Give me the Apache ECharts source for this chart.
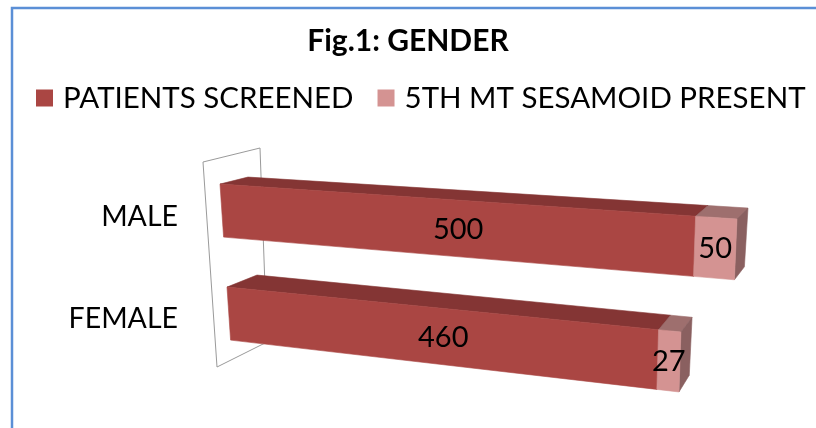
<!DOCTYPE html>
<html>
<head>
<meta charset="utf-8">
<script src="https://cdn.jsdelivr.net/npm/echarts@6/dist/echarts.min.js"></script>
<style>
  html, body { margin: 0; padding: 0; background: #ffffff; }
  #chart { width: 816px; height: 428px; }
</style>
</head>
<body>
<div id="chart"></div>
<script>
// Gender breakdown: patients screened and 5th MT sesamoid present
const categories = ['MALE', 'FEMALE'];
const screened = [500, 460];
const sesamoidPresent = [50, 27];
const seriesNames = ['PATIENTS SCREENED', '5TH MT SESAMOID PRESENT'];

const FONT = 'Lato, "Open Sans", "Liberation Sans", sans-serif';

// Screen-space corners of the front and back planes of the 3D bar block,
// indexed by (t, v) in [0,1]: tl=(0,0) tr=(1,0) bl=(0,1) br=(1,1)
const FRONT = { tl: [218.3, 159.1], tr: [738.2, 190.4], bl: [232.3, 365.1], br: [728.2, 426.4] };
const BACK  = { tl: [245.8, 153.3], tr: [749.7, 180.4], bl: [263.8, 349.3], br: [735.7, 408.4] };
const DEPTH_SCALE = 1.15;   // near end of the bars appears this much larger
const BAR_FILL = 0.515;     // bar thickness as a share of the category band

const COLORS = [
  { front: '#AA4643', top: '#843534', side: '#6E2C2B' },
  { front: '#D49392', top: '#9E6F6E', side: '#8A6060' }
];

function project(plane, t, v) {
  const s = DEPTH_SCALE;
  const u = t * s / (1 + (s - 1) * t);
  const a = (1 - u) * (1 - v), b = u * (1 - v), c = (1 - u) * v, d = u * v;
  return [
    a * plane.tl[0] + b * plane.tr[0] + c * plane.bl[0] + d * plane.br[0],
    a * plane.tl[1] + b * plane.tr[1] + c * plane.bl[1] + d * plane.br[1]
  ];
}

function makeRender(col) {
  return function (params, api) {
    const cs = params.coordSys;
    const start = api.value(0), end = api.value(1), idx = api.value(2);
    const p0 = api.coord([start, idx]);
    const p1 = api.coord([end, idx]);
    const t0 = (p0[0] - cs.x) / cs.width;
    const t1 = (p1[0] - cs.x) / cs.width;
    const vc = (p0[1] - cs.y) / cs.height;
    const hv = api.size([0, 1])[1] * BAR_FILL / 2 / cs.height;
    const v0 = vc - hv, v1 = vc + hv;
    const f00 = project(FRONT, t0, v0), f10 = project(FRONT, t1, v0);
    const f11 = project(FRONT, t1, v1), f01 = project(FRONT, t0, v1);
    const b00 = project(BACK, t0, v0), b10 = project(BACK, t1, v0), b11 = project(BACK, t1, v1);
    const cx = (f00[0] + f10[0] + f11[0] + f01[0]) / 4;
    const cy = (f00[1] + f10[1] + f11[1] + f01[1]) / 4;
    const face = (pts, fill) => ({
      type: 'polygon', shape: { points: pts },
      style: { fill: fill, stroke: fill, lineWidth: 0.6 }
    });
    return {
      type: 'group',
      children: [
        face([f00, b00, b10, f10], col.top),
        face([f10, b10, b11, f11], col.side),
        face([f00, f10, f11, f01], col.front),
        {
          type: 'text', x: cx, y: cy + 1,
          style: {
            text: String(end - start), fill: '#000000',
            fontSize: 29, fontFamily: FONT,
            align: 'center', verticalAlign: 'middle'
          }
        }
      ]
    };
  };
}

// stacked segments: [start, end, categoryIndex]
const screenedSegs = categories.map((c, i) => [0, screened[i], i]);
const presentSegs = categories.map((c, i) => [screened[i], screened[i] + sesamoidPresent[i], i]);
const maxTotal = Math.max(...categories.map((c, i) => screened[i] + sesamoidPresent[i]));

const chart = echarts.init(document.getElementById('chart'), null, { renderer: 'canvas' });
chart.setOption({
  backgroundColor: '#ffffff',
  animation: false,
  title: {
    text: 'Fig.1: GENDER',
    left: 'center',
    top: 21,
    padding: [5, 5, 5, 13],
    textStyle: { fontFamily: FONT, fontSize: 30, fontWeight: 'bold', color: '#000000' }
  },
  legend: {
    left: 31,
    top: 78,
    icon: 'rect',
    itemWidth: 17,
    itemHeight: 17,
    itemGap: 24,
    data: seriesNames,
    textStyle: { fontFamily: FONT, fontSize: 29.5, color: '#000000', padding: [0, 0, 0, 5] }
  },
  grid: { left: 220, right: 79, top: 166, height: 204 },
  xAxis: { type: 'value', min: 0, max: maxTotal, show: false },
  yAxis: {
    type: 'category',
    data: categories,
    inverse: true,
    axisLine: { show: false },
    axisTick: { show: false },
    splitLine: { show: false },
    axisLabel: { fontFamily: FONT, fontSize: 28.5, color: '#000000', margin: 42 }
  },
  graphic: [
    {
      type: 'rect', z: 0,
      shape: { x: 12, y: 8, width: 900, height: 500 },
      style: { fill: 'none', stroke: '#5B8FD6', lineWidth: 2.5 }
    },
    {
      type: 'polygon', z: 0,
      shape: { points: [[203, 162], [260, 148], [267, 342], [217, 367]] },
      style: { fill: '#ffffff', stroke: '#9a9a9a', lineWidth: 1 }
    }
  ],
  series: [
    {
      name: seriesNames[0], type: 'custom', z: 3,
      itemStyle: { color: COLORS[0].front },
      encode: { x: [0, 1], y: 2 },
      renderItem: makeRender(COLORS[0]),
      data: screenedSegs
    },
    {
      name: seriesNames[1], type: 'custom', z: 4,
      itemStyle: { color: COLORS[1].front },
      encode: { x: [0, 1], y: 2 },
      renderItem: makeRender(COLORS[1]),
      data: presentSegs
    }
  ]
});
</script>
</body>
</html>
